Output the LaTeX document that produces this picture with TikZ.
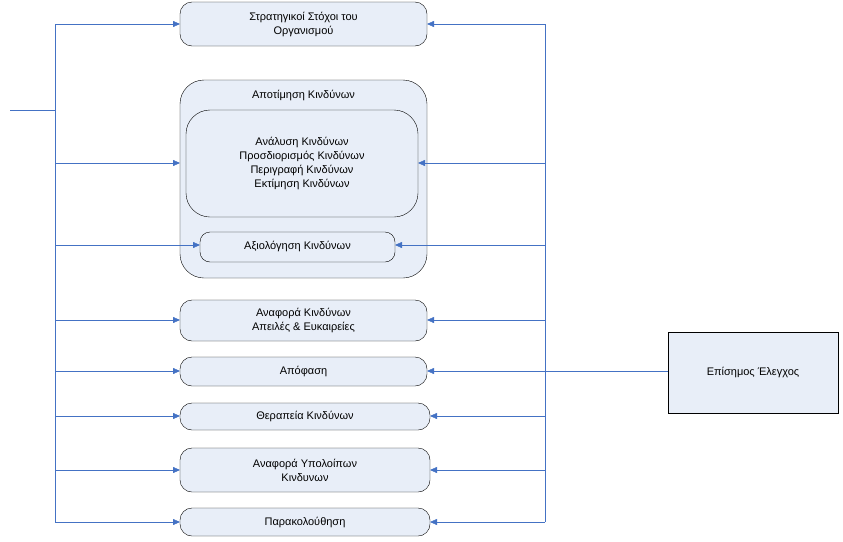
\documentclass[tikz,border=0pt]{standalone}
\usepackage{fontspec}
\setmainfont{Liberation Sans}
\usetikzlibrary{arrows.meta}
\definecolor{ln}{HTML}{4472C4}
\definecolor{fl}{HTML}{E8EEF8}
\tikzset{x=1pt,y=-1pt,
 box/.style={draw=black,fill=fl,rounded corners=12pt,thin},
 conn/.style={draw=ln,thin,-{Triangle[length=7pt,width=6pt]}},
 wire/.style={draw=ln,thin},
 txt/.style={font=\fontsize{11}{14}\selectfont,align=center}}
\begin{document}
\begin{tikzpicture}
\useasboundingbox (0,0) rectangle (843,541);
% boxes
\draw[box] (180,2) rectangle (427,46); \node[txt] (b1) at (303.5,24) {Στρατηγικοί Στόχοι του\\Οργανισμού};
\draw[box,rounded corners=24pt] (180,80) rectangle (427,278);
\node[txt] (b2) at (303.5,95) {Αποτίμηση Κινδύνων};
\draw[box,rounded corners=24pt] (186,110) rectangle (418,217);
\node[txt] (b3) at (302,163) {Ανάλυση Κινδύνων\\Προσδιορισμός Κινδύνων\\Περιγραφή Κινδύνων\\Εκτίμηση Κινδύνων};
\draw[box,rounded corners=10pt] (200,232) rectangle (395,262); \node[txt] (b4) at (297.5,246) {Αξιολόγηση Κινδύνων};
\draw[box] (180,300) rectangle (427,341); \node[txt] (b5) at (303.5,320) {Αναφορά Κινδύνων\\Απειλές \& Ευκαιρείες};
\draw[box] (180,357) rectangle (427,386); \node[txt] (b6) at (303.5,371) {Απόφαση};
\draw[box] (180,403) rectangle (430,430); \node[txt] (b7) at (305,416) {Θεραπεία Κινδύνων};
\draw[box] (180,448) rectangle (430,492); \node[txt] (b8) at (305,470) {Αναφορά Υπολοίπων\\Κινδυνων};
\draw[box] (180,508) rectangle (430,536); \node[txt] (b9) at (305,522) {Παρακολούθηση};
\draw[fill=fl,draw=black,thin] (668,332) rectangle (838,413); \node[txt] (e) at (753,372) {Επίσημος Έλεγχος};
% connectors
\coordinate (in) at (10,110);
\draw[wire] (in) -- (55,110);
\draw[wire] (55,24) -- (55,522);
\draw[wire] (545,24) -- (545,522);
\draw[wire] (545,371) -- (668,371);
\foreach \y/\l/\r in {24/180/427, 163/180/418, 245/200/395, 320/180/427, 371/180/427, 416/180/430, 470/180/430, 522/180/430}{
 \draw[conn] (55,\y) -- (\l,\y);
 \draw[conn] (545,\y) -- (\r,\y);
}
\end{tikzpicture}
\end{document}
